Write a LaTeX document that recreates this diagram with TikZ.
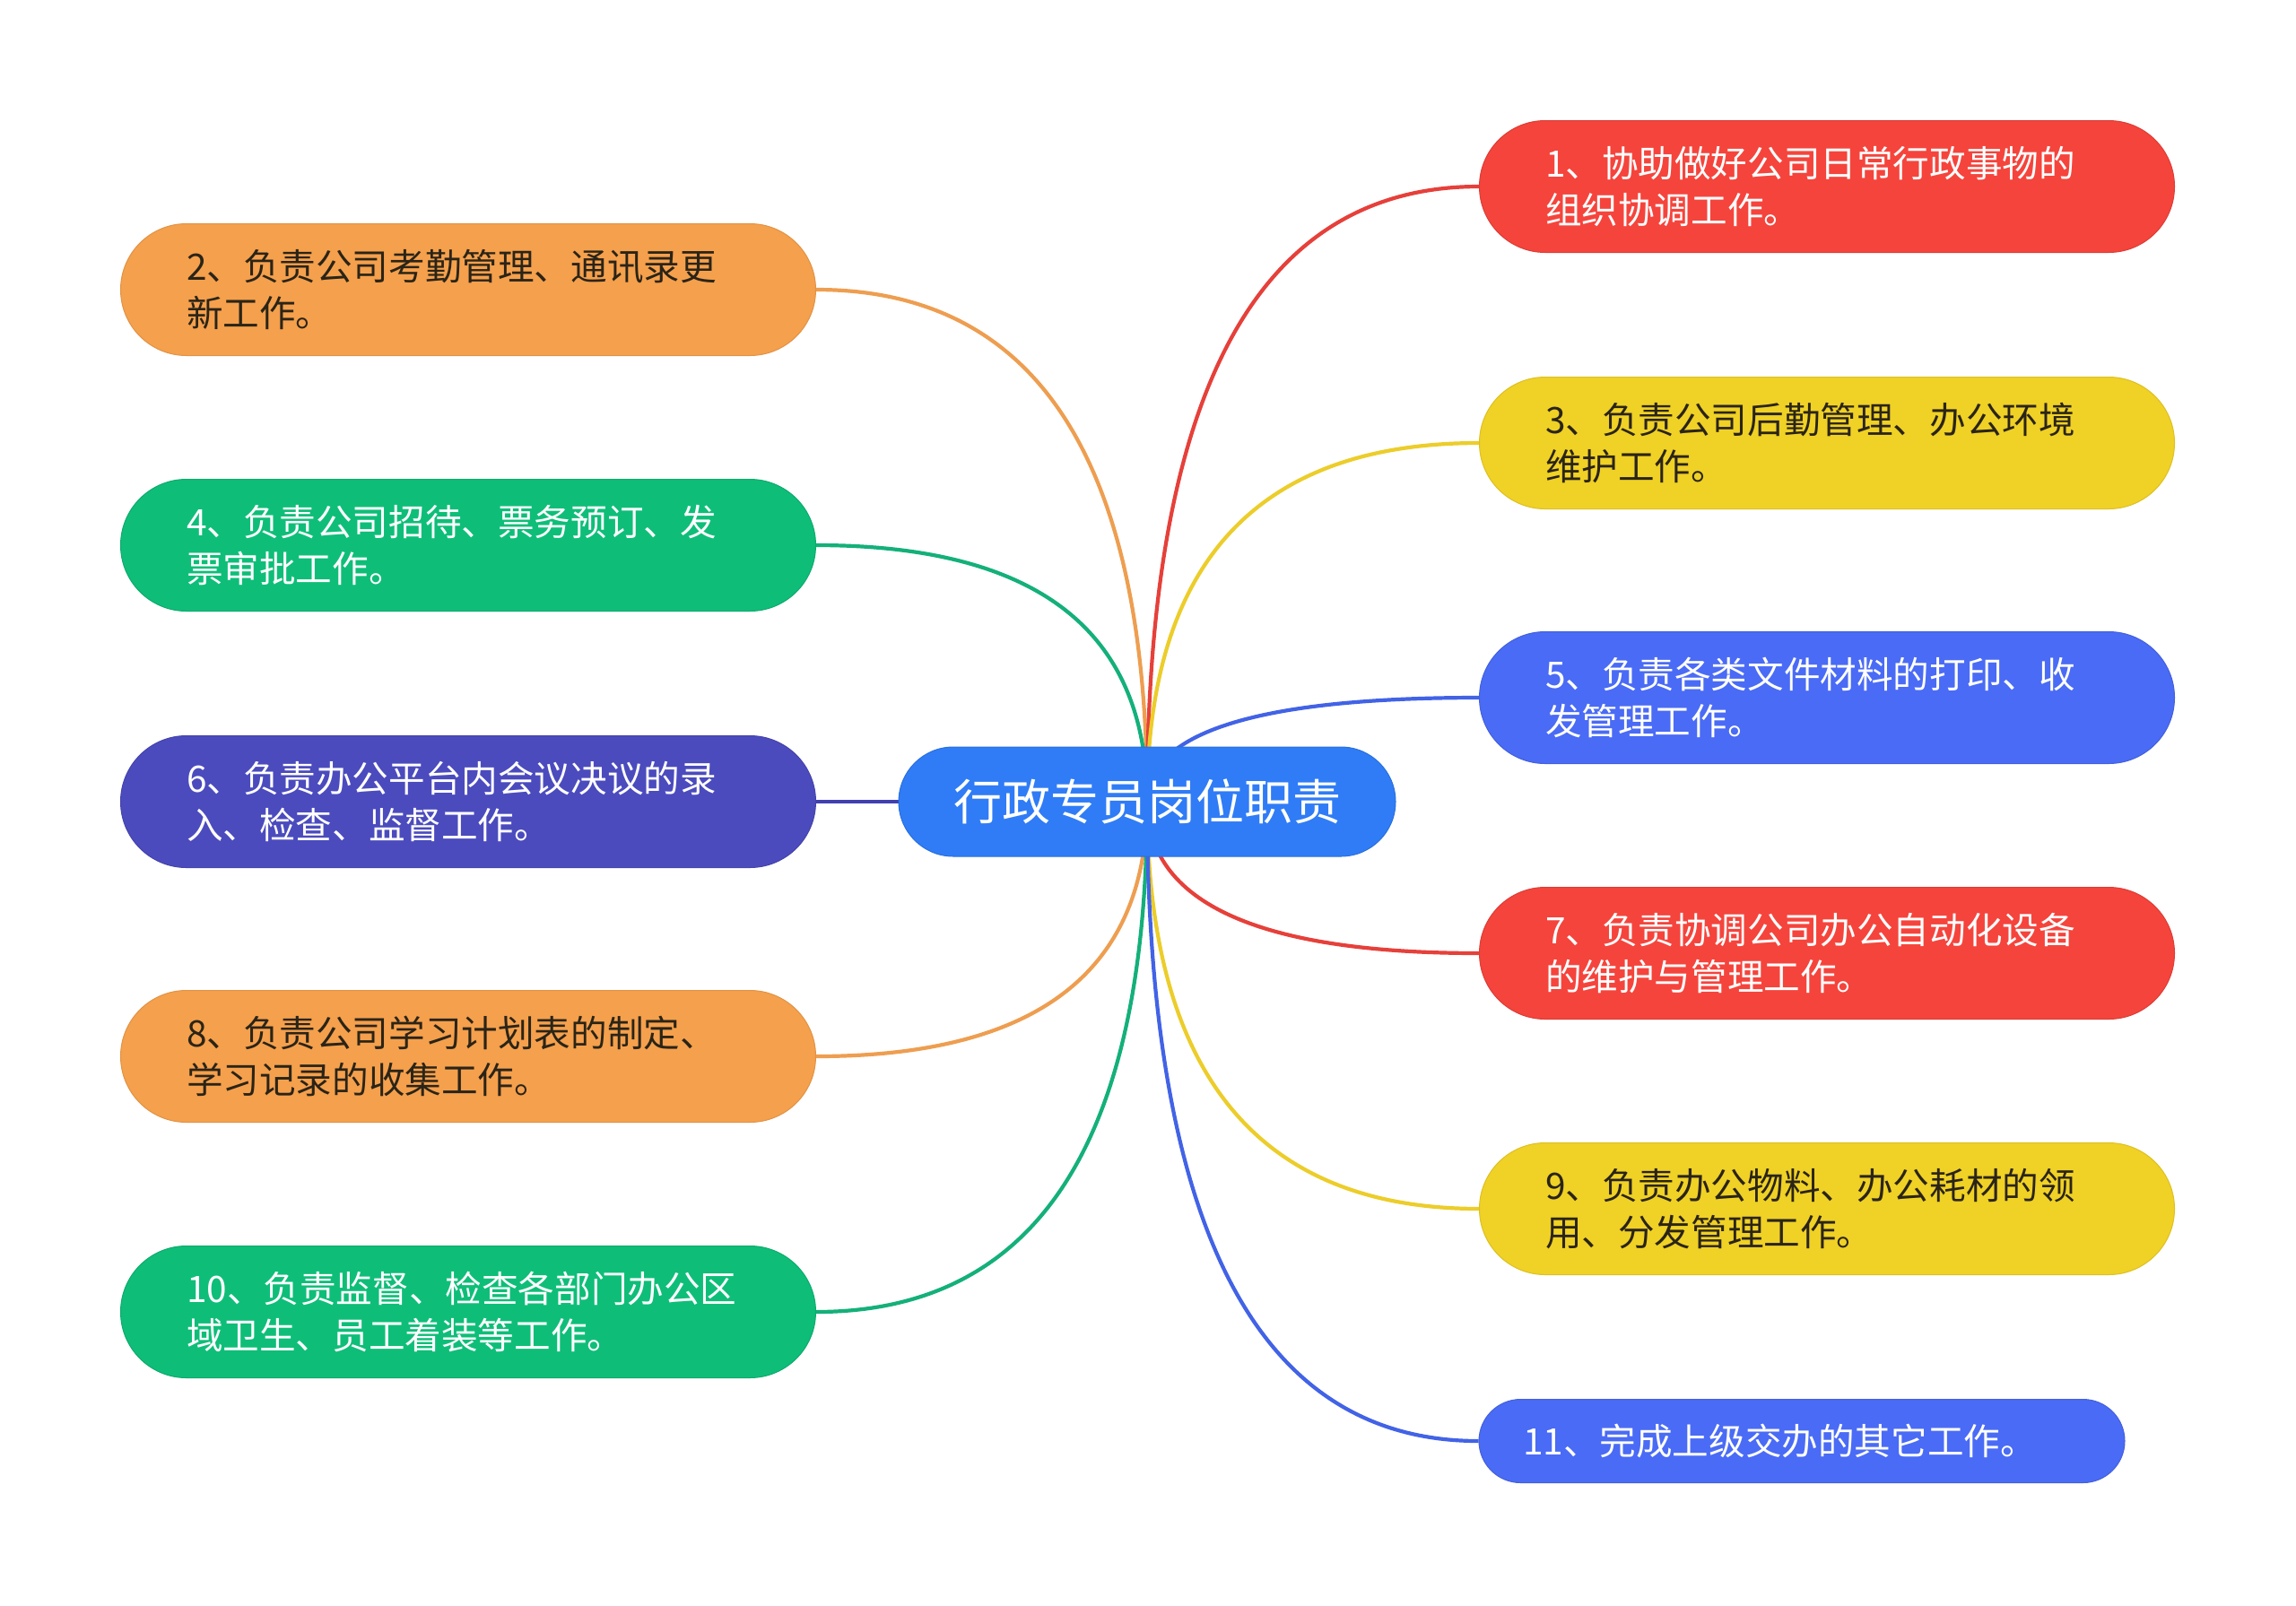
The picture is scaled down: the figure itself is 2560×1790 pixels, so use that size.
\documentclass[tikz,border=0pt]{standalone}
\usepackage{fontspec}
\setmainfont{Noto Sans CJK SC}
\usetikzlibrary{calc,backgrounds}
\definecolor{cRed}{HTML}{F5443C}
\definecolor{cOrange}{HTML}{F5A04C}
\definecolor{cYellow}{HTML}{F0D125}
\definecolor{cGreen}{HTML}{0EBE78}
\definecolor{cBlue}{HTML}{4A6BF5}
\definecolor{cPurple}{HTML}{4B4BBE}
\definecolor{cCenter}{HTML}{2F7CF6}
\definecolor{eRed}{HTML}{E6403A}
\definecolor{eOrange}{HTML}{EE9E50}
\definecolor{eYellow}{HTML}{ECCD2A}
\definecolor{eGreen}{HTML}{14B07A}
\definecolor{eBlue}{HTML}{4263E6}
\definecolor{ePurple}{HTML}{4040B0}
\definecolor{darktext}{HTML}{2A2418}
\begin{document}
\begin{tikzpicture}[x=0.5pt,y=-0.5pt,
  leaf/.style={rectangle, rounded corners=36.75pt, minimum width=387.5pt,
    minimum height=73.5pt, inner sep=0pt, text width=314pt, align=left,
    font=\fontsize{20.3pt}{26pt}\selectfont, line width=0.5pt},
  smallleaf/.style={leaf, rounded corners=23.25pt, minimum width=360pt,
    minimum height=46.5pt, text width=311pt},
  root/.style={rectangle, rounded corners=30.5pt, minimum width=277pt,
    minimum height=61pt, inner sep=0pt, text=white, fill=cCenter,
    draw=cCenter!90!black, line width=0.5pt,
    font=\fontsize{27pt}{32pt}\selectfont},
  conn/.style={line width=2.1pt, to path={.. controls
    ($(\tikztostart)!0.6667!(\tikztostart|-\tikztotarget)$) and
    ($(\tikztotarget)!0.6667!(\tikztostart|-\tikztotarget)$) .. (\tikztotarget)}}
]
\useasboundingbox (0,0) rectangle (2560,1790);

\node[root] (c) at (1279,894) {行政专员岗位职责};

% right side
\node[leaf, fill=cRed, draw=cRed!90!black, text=white] (n1) at (2037,208)
  {1、协助做好公司日常行政事物的\\组织协调工作。};
\node[leaf, fill=cYellow, draw=cYellow!92!black, text=darktext] (n3) at (2037,494)
  {3、负责公司后勤管理、办公环境\\维护工作。};
\node[leaf, fill=cBlue, draw=cBlue!90!black, text=white] (n5) at (2037,778)
  {5、负责各类文件材料的打印、收\\发管理工作。};
\node[leaf, fill=cRed, draw=cRed!90!black, text=white] (n7) at (2037,1063)
  {7、负责协调公司办公自动化设备\\的维护与管理工作。};
\node[leaf, fill=cYellow, draw=cYellow!92!black, text=darktext] (n9) at (2037,1348)
  {9、负责办公物料、办公耗材的领\\用、分发管理工作。};
\node[smallleaf, fill=cBlue, draw=cBlue!90!black, text=white] (n11) at (2009,1607)
  {11、完成上级交办的其它工作。};

% left side
\node[leaf, fill=cOrange, draw=cOrange!92!black, text=darktext] (n2) at (522,323)
  {2、负责公司考勤管理、通讯录更\\新工作。};
\node[leaf, fill=cGreen, draw=cGreen!90!black, text=white] (n4) at (522,608)
  {4、负责公司招待、票务预订、发\\票审批工作。};
\node[leaf, fill=cPurple, draw=cPurple!90!black, text=white] (n6) at (522,894)
  {6、负责办公平台内会议决议的录\\入、检查、监督工作。};
\node[leaf, fill=cOrange, draw=cOrange!92!black, text=darktext] (n8) at (522,1178)
  {8、负责公司学习计划表的制定、\\学习记录的收集工作。};
\node[leaf, fill=cGreen, draw=cGreen!90!black, text=white] (n10) at (522,1463)
  {10、负责监督、检查各部门办公区\\域卫生、员工着装等工作。};

\begin{pgfonlayer}{background}
  \fill[white] (0,0) rectangle (2560,1790);
  \draw[conn, eOrange] (c.center) to (n2.east);
  \draw[conn, eGreen] (c.center) to (n4.east);
  \draw[conn, ePurple] (c.center) to (n6.east);
  \draw[conn, eOrange] (c.center) to (n8.east);
  \draw[conn, eGreen] (c.center) to (n10.east);
  \draw[conn, eRed] (c.center) to (n1.west);
  \draw[conn, eYellow] (c.center) to (n3.west);
  \draw[conn, eBlue] (c.center) to (n5.west);
  \draw[conn, eRed] (c.center) to (n7.west);
  \draw[conn, eYellow] (c.center) to (n9.west);
  \draw[conn, eBlue] (c.center) to (n11.west);
\end{pgfonlayer}
\end{tikzpicture}
\end{document}
